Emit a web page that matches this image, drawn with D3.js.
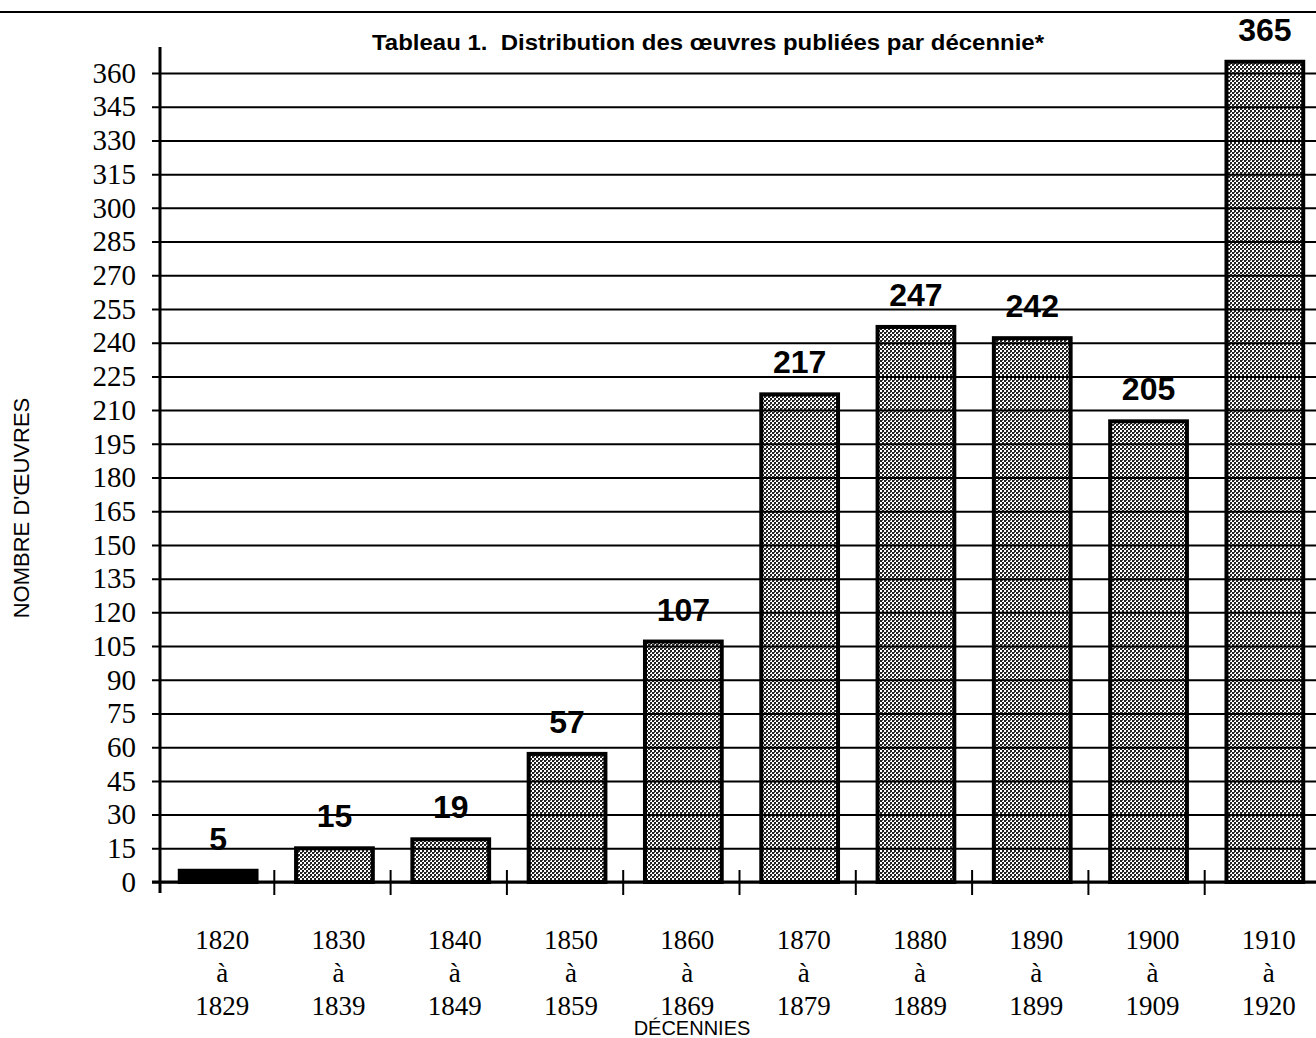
<html>
<head>
<meta charset="utf-8">
<style>
  body { margin: 0; background: #fff; }
</style>
</head>
<body>
<script src="https://d3js.org/d3.v7.min.js"></script>
<div id="chart"></div>
<script>
// decades (three-line labels) and counts
var decadeStart = ["1820", "1830", "1840", "1850", "1860", "1870", "1880", "1890", "1900", "1910"];
var decadeEnd   = ["1829", "1839", "1849", "1859", "1869", "1879", "1889", "1899", "1909", "1920"];
var counts      = [5, 15, 19, 57, 107, 217, 247, 242, 205, 365];
var yTicks      = d3.range(0, 361, 15);

var W = 1316, H = 1038;

var svg = d3.select("#chart").append("svg")
    .attr("width", W)
    .attr("height", H);

// halftone-ish fill
var defs = svg.append("defs");
var pat = defs.append("pattern")
    .attr("id", "dots")
    .attr("width", 4).attr("height", 4)
    .attr("patternUnits", "userSpaceOnUse");
pat.append("rect").attr("width", 4).attr("height", 4).attr("fill", "#fff");
pat.append("rect").attr("x", 0).attr("y", 0).attr("width", 2).attr("height", 2).attr("fill", "#222");
pat.append("rect").attr("x", 2).attr("y", 2).attr("width", 2).attr("height", 2).attr("fill", "#222");
pat.append("rect").attr("x", 2).attr("y", 0).attr("width", 1).attr("height", 1).attr("fill", "#555");

// frame line at the top
svg.append("line")
    .attr("x1", 0).attr("x2", W)
    .attr("y1", 12).attr("y2", 12)
    .attr("stroke", "#000").attr("stroke-width", 2);

var x = d3.scaleBand()
    .domain(decadeStart)
    .range([160, 1323])
    .paddingInner(0.34)
    .paddingOuter(0.17);

var y = d3.scaleLinear()
    .domain([0, 360])
    .range([882, 73]);

// bars
svg.selectAll(".bar")
    .data(counts)
    .enter().append("rect")
    .attr("class", "bar")
    .attr("x", function(d, i) { return x(decadeStart[i]); })
    .attr("y", function(d) { return y(d); })
    .attr("width", x.bandwidth())
    .attr("height", function(d) { return y(0) - y(d); })
    .attr("fill", function(d) { return d < 10 ? "#000" : "url(#dots)"; })
    .attr("stroke", "#000")
    .attr("stroke-width", 4);

// y axis with gridlines over the bars
var yAxis = svg.append("g")
    .attr("transform", "translate(160,0)")
    .call(d3.axisLeft(y).tickValues(yTicks).tickSizeInner(-(W - 160)).tickSizeOuter(0).tickPadding(24));
yAxis.select(".domain").remove();
yAxis.selectAll(".tick line")
    .attr("x1", -8)
    .attr("stroke", "#000")
    .attr("stroke-width", 2);
yAxis.selectAll(".tick text")
    .attr("font-family", "'Liberation Serif', 'Times New Roman', serif")
    .attr("font-size", 29)
    .attr("fill", "#000");

// vertical axis line
svg.append("line")
    .attr("x1", 160).attr("x2", 160)
    .attr("y1", 47).attr("y2", 893)
    .attr("stroke", "#000").attr("stroke-width", 3);

// x axis line and separators between decades
svg.append("line")
    .attr("x1", 152).attr("x2", W)
    .attr("y1", y(0)).attr("y2", y(0))
    .attr("stroke", "#000").attr("stroke-width", 3);

svg.selectAll(".sep")
    .data(decadeStart.slice(1))
    .enter().append("line")
    .attr("class", "sep")
    .attr("x1", function(d) { return x(d) - x.step() * x.paddingInner() / 2 - 2; })
    .attr("x2", function(d) { return x(d) - x.step() * x.paddingInner() / 2 - 2; })
    .attr("y1", 870).attr("y2", 895)
    .attr("stroke", "#000").attr("stroke-width", 2);

// value labels
svg.selectAll(".val")
    .data(counts)
    .enter().append("text")
    .attr("class", "val")
    .attr("x", function(d, i) { return x(decadeStart[i]) + x.bandwidth() / 2; })
    .attr("y", function(d) { return y(d) - 21; })
    .attr("text-anchor", "middle")
    .attr("font-family", "'Liberation Sans', Arial, sans-serif")
    .attr("font-weight", "bold")
    .attr("font-size", 32)
    .text(function(d) { return d; });

// category labels (three lines)
var cat = svg.selectAll(".cat")
    .data(decadeStart)
    .enter().append("text")
    .attr("class", "cat")
    .attr("text-anchor", "middle")
    .attr("font-family", "'Liberation Serif', 'Times New Roman', serif")
    .attr("font-size", 27)
    .attr("transform", function(d) { return "translate(" + (x(d) + x.bandwidth() / 2 + 4) + ",0)"; });
cat.append("tspan").attr("x", 0).attr("y", 949).text(function(d) { return d; });
cat.append("tspan").attr("x", 0).attr("y", 982).text("à");
cat.append("tspan").attr("x", 0).attr("y", 1015).text(function(d, i) { return decadeEnd[i]; });

// titles
svg.append("text")
    .attr("x", 708).attr("y", 50)
    .attr("text-anchor", "middle")
    .attr("font-family", "'Liberation Sans', Arial, sans-serif")
    .attr("font-weight", "bold")
    .attr("font-size", 22)
    .attr("textLength", 672)
    .attr("lengthAdjust", "spacingAndGlyphs")
    .attr("xml:space", "preserve")
    .text("Tableau 1.  Distribution des œuvres publiées par décennie*");

svg.append("text")
    .attr("transform", "translate(29,508) rotate(-90)")
    .attr("text-anchor", "middle")
    .attr("font-family", "'Liberation Sans', Arial, sans-serif")
    .attr("font-size", 22)
    .text("NOMBRE D'ŒUVRES");

svg.append("text")
    .attr("x", 692).attr("y", 1035)
    .attr("text-anchor", "middle")
    .attr("font-family", "'Liberation Sans', Arial, sans-serif")
    .attr("font-size", 20)
    .text("DÉCENNIES");
</script>
</body>
</html>
